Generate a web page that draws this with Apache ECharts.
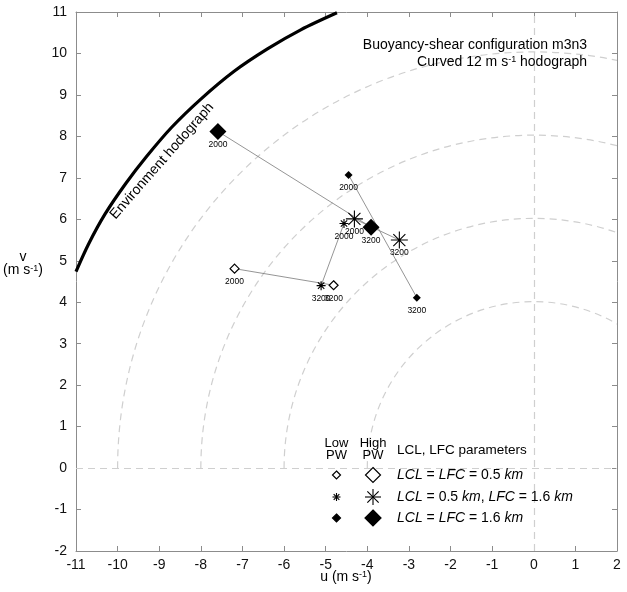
<!DOCTYPE html>
<html><head><meta charset="utf-8">
<script src="https://cdn.jsdelivr.net/npm/echarts@6/dist/echarts.min.js"></script>
<style>html,body{margin:0;padding:0;background:#fff}#c{width:627px;height:592px}</style>
</head><body><div id="c"></div>
<script>
// axis ranges (tick labels every 1 m/s)
const uRange = [-11, 2];
const vRange = [-2, 11];
const tickStep = 1;
// constant-speed reference rings (m/s)
const ringSpeeds = [4, 6, 8, 10];
// environment hodograph
const envU = [-11.0, -10.7, -10.3, -9.8, -9.3, -8.7, -8.0, -7.2, -6.4, -5.6, -4.73];
const envV = [4.74, 5.40, 6.13, 6.87, 7.52, 8.22, 8.90, 9.57, 10.11, 10.57, 10.98];
// storm motions at 2000 and 3200 s
const heights = ['2000', '3200'];
const lowPW_lcl05lfc05_U = [-7.19, -4.81], lowPW_lcl05lfc05_V = [4.81, 4.41];
const lowPW_lcl05lfc16_U = [-4.56, -5.11], lowPW_lcl05lfc16_V = [5.90, 4.40];
const lowPW_lcl16lfc16_U = [-4.45, -2.81], lowPW_lcl16lfc16_V = [7.07, 4.11];
const highPW_lcl05lfc16_U = [-4.31, -3.23], highPW_lcl05lfc16_V = [6.01, 5.50];
const highPW_lcl16lfc16_U = [-7.59, -3.91], highPW_lcl16lfc16_V = [8.12, 5.81];

const FONT = '"Liberation Sans", Arial, Helvetica, sans-serif';
const ASTER = 'path://M0,5L10,5M5,0L5,10M1.46,1.46L8.54,8.54M1.46,8.54L8.54,1.46';

function pts(U, V) { return U.map((u, i) => [u, V[i], heights[i]]); }

const chart = echarts.init(document.getElementById('c'), null, {renderer: 'canvas'});

const lineStyleConn = {color: '#7a7a7a', width: 0.8};
const dashStyle = {color: '#cfcfcf', width: 1.2, type: [7, 5]};
const lbl = {show: true, position: 'inside', offset: [0, 13], fontSize: 8.5, color: '#000', fontFamily: FONT,
  formatter: p => p.value[2]};

const markerSets = [
  {U: lowPW_lcl05lfc05_U, V: lowPW_lcl05lfc05_V, symbol: 'diamond', size: 9, open: true},
  {U: lowPW_lcl05lfc16_U, V: lowPW_lcl05lfc16_V, symbol: ASTER, size: 9, aster: true},
  {U: lowPW_lcl16lfc16_U, V: lowPW_lcl16lfc16_V, symbol: 'diamond', size: 8},
  {U: highPW_lcl05lfc16_U, V: highPW_lcl05lfc16_V, symbol: ASTER, size: 17, aster: true},
  {U: highPW_lcl16lfc16_U, V: highPW_lcl16lfc16_V, symbol: 'diamond', size: 17}
];

const series = [];
series.push({
  type: 'custom', clip: true, z: 1, silent: true,
  data: ringSpeeds.map(r => [r]),
  renderItem: (params, api) => {
    const c = api.coord([0, 0]);
    const r = api.size([api.value(0), 0])[0];
    return {type: 'arc', shape: {cx: c[0], cy: c[1], r: r, startAngle: Math.PI, endAngle: 2 * Math.PI, clockwise: true},
      style: {stroke: '#cfcfcf', fill: null, lineWidth: 1.2, lineDash: [7, 5]}};
  }
});
series.push({
  type: 'line', data: [], z: 1, silent: true,
  markLine: {silent: true, symbol: 'none', label: {show: false}, lineStyle: dashStyle,
    data: [{xAxis: 0}, {yAxis: 0}]}
});
series.push({
  type: 'line', smooth: 0.3, showSymbol: false, z: 3, silent: true,
  data: envU.map((u, i) => [u, envV[i]]),
  lineStyle: {color: '#000', width: 3.2}
});
markerSets.forEach(m => {
  series.push({type: 'line', data: pts(m.U, m.V), showSymbol: false, symbol: 'none', z: 4, silent: true, lineStyle: lineStyleConn});
});
markerSets.forEach(m => {
  series.push({
    type: 'scatter', z: 6, data: pts(m.U, m.V), symbol: m.symbol, symbolSize: m.size,
    itemStyle: m.open ? {color: '#fff', borderColor: '#000', borderWidth: 1.2, opacity: 1}
      : m.aster ? {color: '#000', borderColor: '#000', borderWidth: 1.1, opacity: 1}
      : {color: '#000', opacity: 1},
    label: lbl
  });
});

// legend drawing helpers
function diamond(x, y, s, filled) {
  const h = s / 2;
  return {type: 'polygon', z: 10, shape: {points: [[x, y - h], [x + h, y], [x, y + h], [x - h, y]]},
    style: {fill: filled ? '#000' : '#fff', stroke: '#000', lineWidth: 1.2}};
}
function aster(x, y, s) {
  const h = s / 2, d = h * 0.707;
  const segs = [[-h, 0, h, 0], [0, -h, 0, h], [-d, -d, d, d], [-d, d, d, -d]];
  return {type: 'group', z: 10, children: segs.map(a => ({type: 'line', shape: {x1: x + a[0], y1: y + a[1], x2: x + a[2], y2: y + a[3]},
    style: {stroke: '#000', lineWidth: 1.1}}))};
}
function txt(x, y, text, opts) {
  return Object.assign({type: 'text', z: 10, x: x, y: y,
    style: Object.assign({text: text, fill: '#000', font: '14px ' + FONT, align: 'left', verticalAlign: 'middle'}, opts || {})});
}
const supRich = {s: {fontSize: 9, fontFamily: FONT, verticalAlign: 'top', fill: '#000'}};
const itRich = {i: {fontStyle: 'italic', fontSize: 14, fontFamily: FONT, fill: '#000'}, n: {fontSize: 14, fontFamily: FONT, fill: '#000'}};

const graphic = [
  txt(587, 45, 'Buoyancy-shear configuration m3n3', {align: 'right'}),
  txt(587, 62, 'Curved 12 m s{s|-1} hodograph', {align: 'right', rich: supRich}),
  {type: 'text', z: 10, x: 162, y: 161, rotation: 0.85,
    style: {text: 'Environment hodograph', fill: '#000', font: '14px ' + FONT, align: 'center', verticalAlign: 'middle'}},
  txt(346, 577, 'u (m s{s|-1})', {align: 'center', rich: supRich}),
  txt(23, 264, 'v\n(m s{s|-1})', {align: 'center', rich: supRich, lineHeight: 13}),
  txt(336.5, 449, 'Low\nPW', {align: 'center', font: '13px ' + FONT, lineHeight: 12}),
  txt(373, 449, 'High\nPW', {align: 'center', font: '13px ' + FONT, lineHeight: 12}),
  txt(397, 450, 'LCL, LFC parameters', {font: '13.5px ' + FONT}),
  diamond(336.5, 475, 8, false), diamond(373, 475, 15, false),
  aster(336.5, 497, 8), aster(373, 497, 16),
  diamond(336.5, 518, 8, true), diamond(373, 518, 16, true),
  txt(397, 475, '{i|LCL} {n|= }{i|LFC} {n|= 0.5 }{i|km}', {rich: itRich}),
  txt(397, 497, '{i|LCL} {n|= 0.5 }{i|km}{n|, }{i|LFC} {n|= 1.6 }{i|km}', {rich: itRich}),
  txt(397, 518, '{i|LCL} {n|= }{i|LFC} {n|= 1.6 }{i|km}', {rich: itRich})
];

const axisCommon = {
  type: 'value', interval: tickStep,
  axisLine: {show: true, onZero: false, lineStyle: {color: '#8c8c8c', width: 1}},
  axisTick: {show: true, inside: true, length: 5, lineStyle: {color: '#8c8c8c'}},
  splitLine: {show: false}
};
const labelStyle = {color: '#111', fontSize: 14, fontFamily: FONT};

chart.setOption({
  animation: false,
  backgroundColor: '#fff',
  grid: {left: 76, right: 10, top: 12, bottom: 41, containLabel: false},
  xAxis: [
    Object.assign({}, axisCommon, {min: uRange[0], max: uRange[1], position: 'bottom', axisLabel: Object.assign({margin: 7}, labelStyle)}),
    Object.assign({}, axisCommon, {min: uRange[0], max: uRange[1], position: 'top', axisLabel: {show: false}})
  ],
  yAxis: [
    Object.assign({}, axisCommon, {min: vRange[0], max: vRange[1], position: 'left', axisLabel: Object.assign({margin: 9}, labelStyle)}),
    Object.assign({}, axisCommon, {min: vRange[0], max: vRange[1], position: 'right', axisLabel: {show: false}})
  ],
  series: series,
  graphic: graphic
});
</script></body></html>
